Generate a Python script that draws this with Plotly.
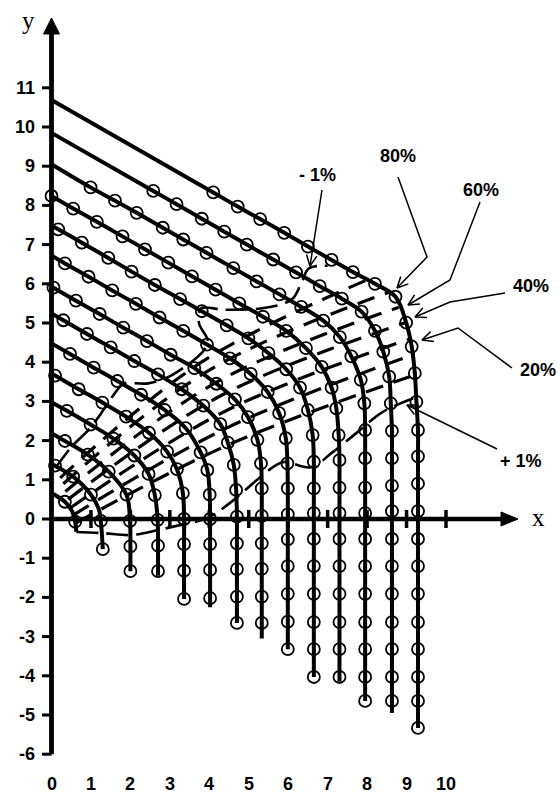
import plotly.graph_objects as go
import math

# ---------------- data ----------------
x_ticks = [0, 1, 2, 3, 4, 5, 6, 7, 8, 9, 10]
x_tick_labels = [str(v) for v in x_ticks]
y_ticks = [-6, -5, -4, -3, -2, -1, 0, 1, 2, 3, 4, 5, 6, 7, 8, 9, 10, 11]
y_tick_labels = [str(v) for v in y_ticks]

# each curve: start on the y axis, vertical column x, lowest point of the line
curve_intercepts = [0.66, 1.42, 2.19, 2.98, 3.71, 4.48, 5.24, 5.93, 6.72, 7.48, 8.24, 9.05, 9.85, 10.69]
curve_columns = [0.63, 1.31, 2.0, 2.7, 3.36, 4.02, 4.7, 5.33, 5.99, 6.65, 7.3, 7.95, 8.63, 9.29]
curve_bottoms = [-0.33, -0.77, -1.33, -1.45, -2.05, -2.25, -2.65, -3.05, -3.35, -4.05, -4.15, -4.65, -4.95, -5.33]

# measured points (circles) along each curve
pts_01 = [(0.34, 0.44), (0.60, -0.07)]
pts_02 = [(0.09, 1.36), (0.55, 1.08), (1.0, 0.62), (1.25, -0.05), (1.30, -0.77)]
pts_03 = [(0.34, 1.99), (0.92, 1.64), (1.45, 1.21), (1.9, 0.62), (1.99, -0.05), (2.0, -0.70), (2.0, -1.33)]
pts_04 = [(0.39, 2.76), (0.99, 2.41), (1.57, 2.05), (2.1, 1.62), (2.46, 1.15), (2.62, 0.61), (2.69, -0.02),
          (2.7, -0.68), (2.7, -1.33)]
pts_05 = [(0.09, 3.66), (0.69, 3.31), (1.29, 2.97), (1.89, 2.61), (2.47, 2.2), (2.93, 1.72), (3.18, 1.27),
          (3.33, 0.66), (3.36, 0.0), (3.36, -0.64), (3.36, -1.32), (3.36, -2.04)]
pts_06 = [(0.47, 4.21), (1.07, 3.86), (1.67, 3.52), (2.27, 3.17), (2.87, 2.78), (3.4, 2.32), (3.78, 1.7),
          (3.95, 1.25), (4.01, 0.62), (4.02, 0.0), (4.02, -0.64), (4.02, -1.3), (4.02, -2.02)]
pts_07 = [(0.3, 5.07), (0.9, 4.72), (1.5, 4.38), (2.1, 4.03), (2.7, 3.69), (3.3, 3.31), (3.85, 2.89),
          (4.28, 2.42), (4.47, 1.95), (4.62, 1.38), (4.68, 0.74), (4.7, 0.06), (4.7, -0.62), (4.7, -1.28),
          (4.7, -1.98), (4.7, -2.65)]
pts_08 = [(0.05, 5.9), (0.62, 5.57), (1.22, 5.23), (1.82, 4.88), (2.42, 4.54), (3.02, 4.19), (3.62, 3.85),
          (4.18, 3.45), (4.65, 3.05), (4.98, 2.6), (5.22, 2.02), (5.31, 1.42), (5.33, 0.78), (5.33, 0.08),
          (5.33, -0.62), (5.33, -1.27), (5.33, -1.98), (5.33, -2.65)]
pts_09 = [(0.34, 6.52), (0.94, 6.18), (1.54, 5.83), (2.14, 5.49), (2.74, 5.14), (3.34, 4.8), (3.94, 4.45),
          (4.52, 4.1), (5.05, 3.7), (5.48, 3.24), (5.77, 2.7), (5.94, 2.06), (5.98, 1.42), (5.99, 0.78),
          (5.99, 0.12), (5.99, -0.52), (5.99, -1.2), (5.99, -1.91), (5.99, -2.62), (5.99, -3.32)]
pts_10 = [(0.17, 7.39), (0.77, 7.05), (1.44, 6.66), (2.03, 6.31), (2.62, 5.97), (3.26, 5.61), (3.81, 5.3),
          (4.44, 4.94), (4.99, 4.61), (5.5, 4.23), (5.95, 3.82), (6.3, 3.35), (6.5, 2.78), (6.62, 2.14),
          (6.65, 1.46), (6.65, 0.78), (6.65, 0.15), (6.65, -0.51), (6.65, -1.2), (6.65, -1.91),
          (6.65, -2.63), (6.65, -3.32), (6.65, -4.03)]
pts_11 = [(0.0, 8.24), (0.55, 7.92), (1.15, 7.58), (1.8, 7.21), (2.37, 6.88), (2.96, 6.54), (3.56, 6.19),
          (4.16, 5.85), (4.76, 5.5), (5.36, 5.16), (5.95, 4.8), (6.45, 4.36), (6.85, 3.88), (7.1, 3.35),
          (7.22, 2.82), (7.28, 2.14), (7.3, 1.5), (7.3, 0.8), (7.3, 0.15), (7.3, -0.51), (7.3, -1.2),
          (7.3, -1.91), (7.3, -2.63), (7.3, -3.32), (7.3, -4.03)]
pts_12 = [(0.99, 8.46), (1.61, 8.12), (2.16, 7.81), (2.82, 7.43), (3.34, 7.13), (3.93, 6.79), (4.61, 6.4),
          (5.2, 6.06), (5.78, 5.73), (6.33, 5.41), (6.89, 5.06), (7.31, 4.64), (7.6, 4.15), (7.84, 3.55),
          (7.93, 2.95), (7.95, 2.27), (7.95, 1.55), (7.95, 0.8), (7.95, 0.15), (7.95, -0.51), (7.95, -1.2),
          (7.95, -1.91), (7.95, -2.63), (7.95, -3.32), (7.95, -4.03), (7.95, -4.64)]
pts_13 = [(2.58, 8.37), (3.17, 8.03), (3.81, 7.66), (4.38, 7.33), (4.95, 7.0), (5.62, 6.62), (6.2, 6.29),
          (6.8, 5.94), (7.36, 5.62), (7.86, 5.29), (8.2, 4.8), (8.41, 4.27), (8.56, 3.63), (8.6, 2.95),
          (8.63, 2.25), (8.63, 1.55), (8.63, 0.85), (8.63, 0.2), (8.63, -0.51), (8.63, -1.2), (8.63, -1.91),
          (8.63, -2.63), (8.63, -3.32), (8.63, -4.03), (8.63, -4.64)]
pts_14 = [(4.1, 8.33), (4.72, 7.97), (5.29, 7.65), (5.9, 7.3), (6.5, 6.95), (7.1, 6.61), (7.64, 6.3),
          (8.2, 6.0), (8.72, 5.67), (8.99, 5.01), (9.13, 4.4), (9.21, 3.72), (9.25, 2.99), (9.29, 2.27),
          (9.29, 1.6), (9.29, 0.9), (9.29, 0.2), (9.29, -0.51), (9.29, -1.2), (9.29, -1.91), (9.29, -2.63),
          (9.29, -3.32), (9.29, -4.03), (9.29, -4.64), (9.29, -5.33)]
# a few extra bend points
bend_01 = [(0.52, 0.2)]
bend_02 = [(1.2, 0.25)]

all_pts = [pts_01, pts_02, pts_03, pts_04, pts_05, pts_06, pts_07,
           pts_08, pts_09, pts_10, pts_11, pts_12, pts_13, pts_14]
all_bends = {0: bend_01, 1: bend_02}

# +1 % and -1 % boundary lines
plus1_x = [0.63, 1.3, 2.02, 2.7, 3.28, 3.96, 4.55, 5.3, 5.86, 6.57, 7.12, 7.75, 8.38, 9.17]
plus1_y = [-0.33, -0.36, -0.41, -0.28, -0.15, 0.03, 0.43, 1.07, 1.45, 1.32, 1.70, 2.21, 2.72, 3.08]
minus1_x = [0.1, 0.5, 1.0, 1.26, 1.72, 1.84, 2.45, 3.03, 3.86, 3.96, 3.74, 3.79, 4.37, 5.3, 5.9, 6.14, 6.36, 6.52, 7.0]
minus1_y = [1.3, 1.83, 2.34, 2.7, 3.36, 3.46, 3.46, 3.66, 4.3, 4.55, 4.99, 5.37, 5.34, 5.37, 5.5, 5.65, 6.08, 6.39, 6.46]

# dashed lines between the two boundaries
fan_01 = [(0.62, -0.1), (4.5, 1.9), (9.28, 3.7)]
fan_02 = [(0.55, 0.1), (4.5, 2.35), (9.2, 4.2)]
fan_03 = [(0.5, 0.3), (4.4, 2.75), (9.1, 4.6)]
fan_04 = [(0.42, 0.5), (4.3, 3.15), (8.95, 5.0)]
fan_05 = [(0.35, 0.7), (4.2, 3.5), (8.8, 5.4)]
fan_06 = [(0.3, 0.9), (4.0, 3.8), (8.6, 5.8)]
fan_07 = [(0.22, 1.05), (3.8, 4.0), (8.0, 6.1)]
fan_lines = [fan_01, fan_02, fan_03, fan_04, fan_05, fan_06, fan_07]

# ---------------- layout helpers (pixel frame of the picture) ----------------
W, H = 560, 796
X0, SX = 51.5, 39.45
Y0, SY = 519.0, 39.2


def dx(px):
    return (px - X0) / SX


def dy(py):
    return (Y0 - py) / SY


fig = go.Figure()
INK = "black"

# dashed fan
for f in fan_lines:
    fig.add_trace(go.Scatter(x=[p[0] for p in f], y=[p[1] for p in f], mode="lines",
                             line=dict(color=INK, width=3.2, dash="18px,11px", shape="spline"),
                             hoverinfo="skip"))
for xs, ys in [(plus1_x, plus1_y), (minus1_x, minus1_y)]:
    fig.add_trace(go.Scatter(x=xs, y=ys, mode="lines",
                             line=dict(color=INK, width=2.6, dash="22px,8px", shape="spline"),
                             hoverinfo="skip"))

# main curves
for i, pts in enumerate(all_pts):
    a = curve_intercepts[i]
    b = curve_columns[i]
    bot = curve_bottoms[i]
    line_pts = list(pts) + all_bends.get(i, [])
    if pts[0][0] > 0.03:
        line_pts.append((0.0, a))
    if bot < pts[-1][1] - 0.05:
        line_pts.append((b, bot))
    line_pts.sort(key=lambda p: p[0] - p[1])
    fig.add_trace(go.Scatter(x=[p[0] for p in line_pts], y=[p[1] for p in line_pts], mode="lines",
                             line=dict(color=INK, width=4.0, shape="spline", smoothing=1.0),
                             hoverinfo="skip"))

# circles
for pts in all_pts:
    fig.add_trace(go.Scatter(x=[p[0] for p in pts], y=[p[1] for p in pts], mode="markers",
                             marker=dict(symbol="circle-open", size=12, color=INK,
                                         line=dict(width=1.8, color=INK)),
                             hoverinfo="skip"))

# axes
fig.add_trace(go.Scatter(x=[0, 0], y=[y_ticks[0], dy(32)], mode="lines",
                         line=dict(color=INK, width=4.8), hoverinfo="skip"))
fig.add_trace(go.Scatter(x=[0, dx(503)], y=[0, 0], mode="lines",
                         line=dict(color=INK, width=4.4), hoverinfo="skip"))
# arrow heads of the axes
fig.add_trace(go.Scatter(x=[dx(43.5), dx(51.5), dx(59.5), dx(43.5)], y=[dy(34), dy(18), dy(34), dy(34)],
                         mode="lines", fill="toself", fillcolor=INK, line=dict(color=INK, width=1),
                         hoverinfo="skip"))
fig.add_trace(go.Scatter(x=[dx(501), dx(518), dx(501), dx(501)], y=[dy(512), dy(519), dy(526), dy(512)],
                         mode="lines", fill="toself", fillcolor=INK, line=dict(color=INK, width=1),
                         hoverinfo="skip"))

# tick marks
ytx, yty = [], []
for v in y_ticks:
    ytx += [dx(42), 0, None]
    yty += [v, v, None]
fig.add_trace(go.Scatter(x=ytx, y=yty, mode="lines", line=dict(color=INK, width=3), hoverinfo="skip"))
xtx, xty = [], []
for v in x_ticks[1:]:
    xtx += [v, v, None]
    xty += [dy(510), dy(528), None]
fig.add_trace(go.Scatter(x=xtx, y=xty, mode="lines", line=dict(color=INK, width=3.5), hoverinfo="skip"))

annotations = []
bold = dict(family="Arial, 'Liberation Sans', sans-serif", size=18, color=INK, weight="bold")
for v, t in zip(y_ticks, y_tick_labels):
    annotations.append(dict(x=dx(37), y=v, text=t, showarrow=False, xanchor="right", yanchor="middle",
                            font=bold))
for v, t in zip(x_ticks, x_tick_labels):
    annotations.append(dict(x=v, y=dy(784), text=t, showarrow=False, xanchor="center", yanchor="middle",
                            font=bold))
serif = dict(family="'Liberation Serif', 'Times New Roman', serif", size=25, color=INK)
annotations.append(dict(x=dx(28), y=dy(20), text="y", showarrow=False, font=serif))
annotations.append(dict(x=dx(538), y=dy(517), text="x", showarrow=False, font=serif))

# labelled arrows (pixel positions of label centre and of the shaft)
callouts = [
    ("- 1%", (317, 175), [(322, 190), (310, 266)]),
    ("80%", (398, 156), [(398, 177), (427, 257), (397, 288)]),
    ("60%", (481, 190), [(480, 202), (450, 280), (408, 305)]),
    ("40%", (531, 286), [(505, 293), (450, 302), (415, 317)]),
    ("20%", (538, 370), [(512, 368), (458, 328), (422, 340)]),
    ("+ 1%", (521, 461), [(497, 449), (407, 405)]),
]
for text, (lx, ly), path in callouts:
    annotations.append(dict(x=dx(lx), y=dy(ly), text=text, showarrow=False, font=bold))
    fig.add_trace(go.Scatter(x=[dx(p[0]) for p in path], y=[dy(p[1]) for p in path], mode="lines",
                             line=dict(color=INK, width=1.5), hoverinfo="skip"))
    (px1, py1), (px2, py2) = path[-2], path[-1]
    ang = math.atan2(py2 - py1, px2 - px1)
    hx, hy = [], []
    for s in (1, -1):
        a2 = ang + math.pi + s * math.radians(26)
        hx.append(px2 + 12 * math.cos(a2))
        hy.append(py2 + 12 * math.sin(a2))
    fig.add_trace(go.Scatter(x=[dx(hx[0]), dx(px2), dx(hx[1])], y=[dy(hy[0]), dy(py2), dy(hy[1])],
                             mode="lines", line=dict(color=INK, width=1.5), hoverinfo="skip"))

fig.update_layout(
    width=W, height=H, margin=dict(l=0, r=0, t=0, b=0),
    paper_bgcolor="white", plot_bgcolor="white", showlegend=False,
    xaxis=dict(range=[dx(0), dx(W)], visible=False, fixedrange=True),
    yaxis=dict(range=[dy(H), dy(0)], visible=False, fixedrange=True),
    annotations=annotations,
)
fig.write_html("out.html", config={"displayModeBar": False},
               post_script="document.body.style.margin='0px';document.body.style.overflow='hidden';")
